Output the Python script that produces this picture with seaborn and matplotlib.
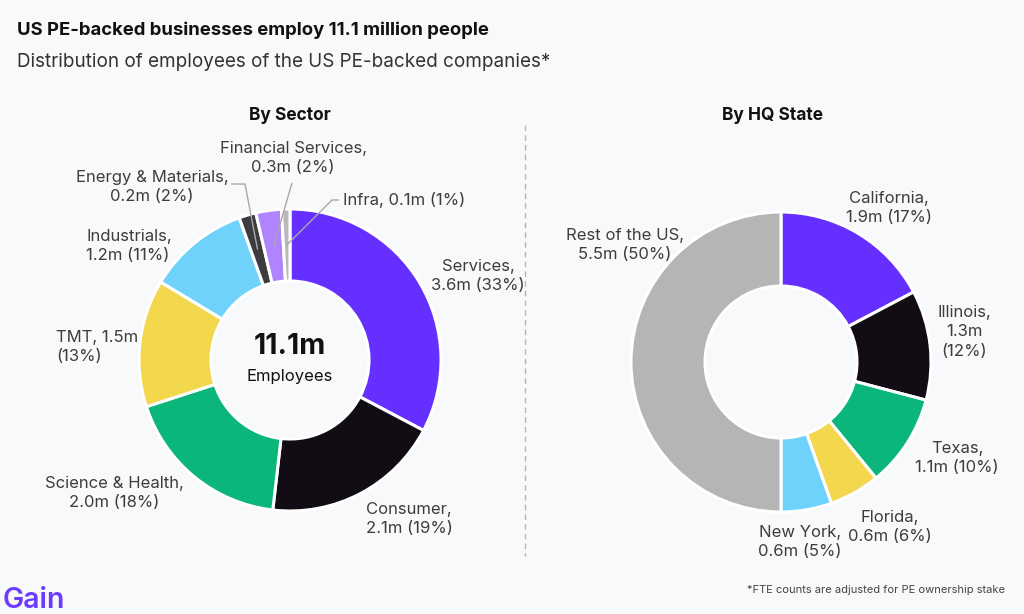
import matplotlib
matplotlib.use("Agg")
import matplotlib.pyplot as plt
import seaborn as sns
import numpy as np

# ---------------- data ----------------
sector_names = ["Services", "Consumer", "Science & Health", "TMT", "Industrials",
                "Energy & Materials", "Financial Services", "Infra"]
sector_values = [3.6, 2.1, 2.0, 1.5, 1.2, 0.2, 0.3, 0.1]
sector_pcts = [33, 19, 18, 13, 11, 2, 2, 1]

state_names = ["California", "Illinois", "Texas", "Florida", "New York", "Rest of the US"]
state_values = [1.9, 1.3, 1.1, 0.6, 0.6, 5.5]
state_pcts = [17, 12, 10, 6, 5, 50]

total_employees = 11.1

# ---------------- style ----------------
bg = "#f8f9fb"
sector_colors = ["#6530ff", "#120d14", "#0bb67a", "#f3d74d", "#6fd2fb",
                 "#3c3c40", "#b084ff", "#b9b9b9"]
state_colors = ["#6530ff", "#120d14", "#0bb67a", "#f3d74d", "#6fd2fb", "#b4b5b4"]
label_color = "#3d3d3d"

sns.set_theme(style="white")
plt.rcParams["font.family"] = ["Inter", "DejaVu Sans"]

W, H = 1024, 614
fig = plt.figure(figsize=(W / 100, H / 100), dpi=100, facecolor=bg)
ax = fig.add_axes([0, 0, 1, 1])
ax.set_facecolor(bg)


def py(y):
    return H - y


# label layout: (x_px, y_px, ha, pattern)
sector_layout = [
    (478, 276, "center", "{n},\n{v:.1f}m ({p}%)"),
    (409, 519, "center", "{n},\n{v:.1f}m ({p}%)"),
    (114, 493, "center", "{n},\n{v:.1f}m ({p}%)"),
    (56, 347, "left", "{n}, {v:.1f}m\n({p}%)"),
    (86, 246, "left", "{n},\n{v:.1f}m ({p}%)"),
    (152, 187, "center", "{n},\n{v:.1f}m ({p}%)"),
    (293, 158, "center", "{n},\n{v:.1f}m ({p}%)"),
    (343, 200, "left", "{n}, {v:.1f}m ({p}%)"),
]
state_layout = [
    (889, 208, "center", "{n},\n{v:.1f}m ({p}%)"),
    (964, 332, "center", "{n},\n{v:.1f}m\n({p}%)"),
    (957, 458, "center", "{n},\n{v:.1f}m ({p}%)"),
    (890, 527, "center", "{n},\n{v:.1f}m ({p}%)"),
    (800, 542, "center", "{n},\n{v:.1f}m ({p}%)"),
    (625, 245, "center", "{n},\n{v:.1f}m ({p}%)"),
]

# ---------------- donuts ----------------
c1 = (290, py(360)); r1 = 151; w1 = 72
c2 = (781, py(362)); r2 = 150; w2 = 74

wedges1, _ = ax.pie(sector_values, colors=sector_colors, startangle=90, counterclock=False,
                    radius=r1, center=c1,
                    wedgeprops=dict(width=w1, edgecolor="white", linewidth=2.2))
wedges2, _ = ax.pie(state_values, colors=state_colors, startangle=90, counterclock=False,
                    radius=r2, center=c2,
                    wedgeprops=dict(width=w2, edgecolor="white", linewidth=2.2))

lab_fs = 12
for (x, y, ha, pat), n, v, p in zip(sector_layout, sector_names, sector_values, sector_pcts):
    ax.text(x, py(y), pat.format(n=n, v=v, p=p), ha=ha, va="center", fontsize=lab_fs,
            color=label_color, linespacing=1.35)
for (x, y, ha, pat), n, v, p in zip(state_layout, state_names, state_values, state_pcts):
    ax.text(x, py(y), pat.format(n=n, v=v, p=p), ha=ha, va="center", fontsize=lab_fs,
            color=label_color, linespacing=1.35)


def mid_point(w, center, r, width):
    ang = np.deg2rad((w.theta1 + w.theta2) / 2)
    rr = r - width / 2
    return center[0] + rr * np.cos(ang), center[1] + rr * np.sin(ang)


# leader lines for the small slices
leaders = {5: [(231, 184), (245, 184)], 6: [(292, 183)], 7: [(339, 200), (332, 200)]}
for idx, pts in leaders.items():
    ex, ey = mid_point(wedges1[idx], c1, r1, w1)
    xs = [p[0] for p in pts] + [ex]
    ys = [py(p[1]) for p in pts] + [ey]
    ax.plot(xs, ys, color="#a9a9a9", lw=1.0, solid_capstyle="butt", zorder=5)

# centre text
ax.text(c1[0], py(347), f"{total_employees:.1f}m", ha="center", va="center",
        fontsize=20.5, fontweight="bold", color="#111111")
ax.text(c1[0], py(377), "Employees", ha="center", va="center", fontsize=12, color="#111111")

# section titles
ax.text(290, py(115), "By Sector", ha="center", va="center", fontsize=12.5,
        fontweight="bold", color="#111111")
ax.text(773, py(115), "By HQ State", ha="center", va="center", fontsize=12.5,
        fontweight="bold", color="#111111")

# separator
ax.plot([525, 525], [py(125), py(556)], color="#b5b5b5", lw=1, ls=(0, (4, 3)))

# titles
ax.text(17, py(30), "US PE-backed businesses employ 11.1 million people", ha="left",
        va="center", fontsize=13.3, fontweight="bold", color="#111111")
ax.text(17, py(62), "Distribution of employees of the US PE-backed companies*", ha="left",
        va="center", fontsize=13.6, color="#333333")

# footer
ax.text(1005, py(590), "*FTE counts are adjusted for PE ownership stake", ha="right",
        va="center", fontsize=8, color="#444444")
ax.text(3, py(600), "Gain", ha="left", va="center", fontsize=20.5, fontweight="semibold",
        color="#6b3cff")

ax.set_xlim(0, W)
ax.set_ylim(0, H)
ax.set_aspect("equal")
ax.axis("off")

fig.savefig("out.png", dpi=100, facecolor=bg)
